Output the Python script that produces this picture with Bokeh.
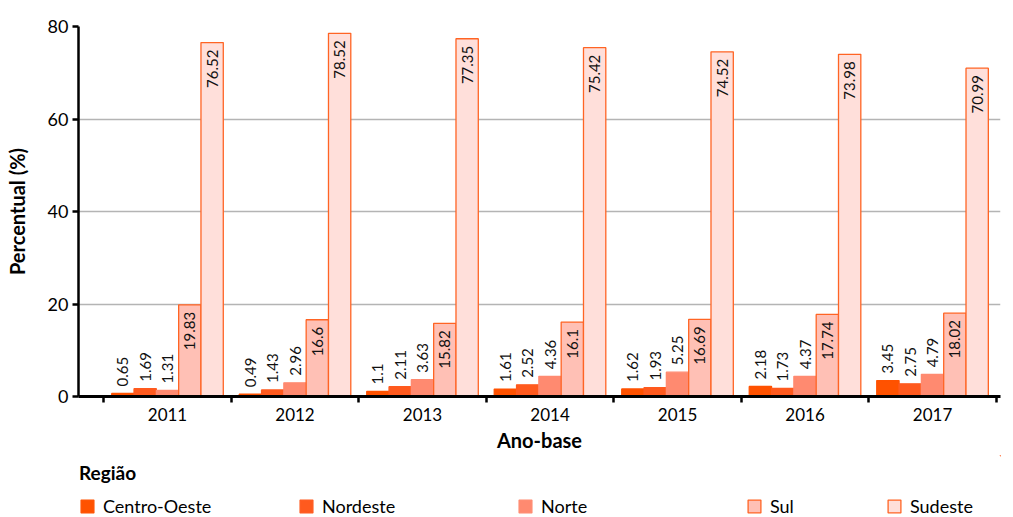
import math
from bokeh.plotting import figure
from bokeh.layouts import column
from bokeh.models import (Range1d, FixedTicker, Legend, LegendItem, ColumnDataSource)
from bokeh.core.properties import value
from bokeh.embed import file_html
from bokeh.resources import INLINE

years = ["2011", "2012", "2013", "2014", "2015", "2016", "2017"]
regions = ["Centro-Oeste", "Nordeste", "Norte", "Sul", "Sudeste"]
centro_oeste = [0.65, 0.49, 1.1, 1.61, 1.62, 2.18, 3.45]
nordeste = [1.69, 1.43, 2.11, 2.52, 1.93, 1.73, 2.75]
norte = [1.31, 2.96, 3.63, 4.36, 5.25, 4.37, 4.79]
sul = [19.83, 16.6, 15.82, 16.1, 16.69, 17.74, 18.02]
sudeste = [76.52, 78.52, 77.35, 75.42, 74.52, 73.98, 70.99]
y_ticks = [0, 20, 40, 60, 80]

series = [centro_oeste, nordeste, norte, sul, sudeste]
fills = ["#FF5200", "#FF5A1E", "#FF8A70", "#FFC0B5", "#FFDFDA"]
borders = ["#FF5200", "#FF5A1E", "#FF8A70", "#FF6424", "#FF6424"]
inside = [False, False, False, True, True]

FONT = "Lato"

p = figure(width=1013, height=455, output_backend="svg", toolbar_location=None,
           x_range=Range1d(-0.698, 6.533), y_range=Range1d(0, 80),
           min_border_left=78, min_border_top=26, min_border_right=13,
           min_border_bottom=59)
p.outline_line_color = None

bar_w = 0.175
offsets = [-2 * bar_w, -bar_w, 0, bar_w, 2 * bar_w]

for k, vals in enumerate(series):
    xs = [i + offsets[k] for i in range(len(years))]
    src = ColumnDataSource(dict(x=xs, top=vals, lab=[str(v) for v in vals]))
    p.vbar(x="x", top="top", width=bar_w, source=src,
           fill_color=fills[k], line_color=borders[k], line_width=1.3)
    if inside[k]:
        p.text(x="x", y="top", text="lab", source=src, angle=math.pi / 2,
               text_align="right", text_baseline="middle", y_offset=7,
               text_font=value(FONT), text_font_size="15px", text_color="#111111")
    else:
        p.text(x="x", y="top", text="lab", source=src, angle=math.pi / 2,
               text_align="left", text_baseline="middle", y_offset=-7,
               text_font=value(FONT), text_font_size="15px", text_color="#111111")

# grid
p.xgrid.grid_line_color = None
p.ygrid.ticker = FixedTicker(ticks=[20, 40, 60, 80])
p.ygrid.grid_line_color = "#B4B4B4"
p.ygrid.grid_line_width = 1.3

# y axis
ya = p.yaxis[0]
ya.ticker = FixedTicker(ticks=y_ticks)
ya.axis_line_width = 2.5
ya.axis_line_color = "black"
ya.major_tick_line_width = 2.5
ya.major_tick_out = 6
ya.major_tick_in = 0
ya.minor_tick_line_color = None
ya.major_label_text_font = FONT
ya.major_label_text_font_size = "18px"
ya.major_label_text_color = "black"
ya.major_label_standoff = 4
ya.axis_label = "Percentual (%)"
ya.axis_label_text_font = FONT
ya.axis_label_text_font_style = "bold"
ya.axis_label_text_font_size = "20px"
ya.axis_label_text_color = "black"
ya.axis_label_standoff = 16

# x axis
xa = p.xaxis[0]
xa.ticker = FixedTicker(ticks=list(range(len(years))),
                        minor_ticks=[i - 0.5 for i in range(len(years) + 1)])
xa.major_label_overrides = {i: y for i, y in enumerate(years)}
xa.axis_line_width = 3
xa.axis_line_color = "black"
xa.major_tick_line_color = None
xa.minor_tick_line_color = "black"
xa.minor_tick_line_width = 2.5
xa.minor_tick_out = 6
xa.minor_tick_in = 0
xa.major_label_text_font = FONT
xa.major_label_text_font_size = "17px"
xa.major_label_text_color = "black"
xa.major_label_standoff = 5
xa.axis_label = "Ano-base"
xa.axis_label_text_font = FONT
xa.axis_label_text_font_style = "bold"
xa.axis_label_text_font_size = "20px"
xa.axis_label_text_color = "black"
xa.axis_label_standoff = 4

# legend panel (separate figure below the chart; its frame is aligned with the chart's frame)
pl = figure(width=1013, height=62, output_backend="svg", toolbar_location=None,
            x_range=Range1d(0, 1), y_range=Range1d(0, 1),
            x_axis_location=None, y_axis_location=None,
            min_border_left=0, min_border_right=0, min_border_top=0, min_border_bottom=0)
pl.outline_line_color = None
pl.xgrid.grid_line_color = None
pl.ygrid.grid_line_color = None

leg_renderers = []
for k in range(len(regions)):
    # off-range swatch renderer, only used for the legend glyph
    r = pl.vbar(x=[5], top=[5], bottom=[4], width=0.1, fill_color=fills[k],
                line_color=borders[k], line_width=1.3)
    leg_renderers.append(r)


def make_legend(items, loc, title=None, label_width=20):
    lg = Legend(items=items, location=loc, orientation="horizontal",
                glyph_width=16, glyph_height=16, label_standoff=8,
                label_width=label_width, spacing=0, padding=0, margin=0,
                border_line_color=None, background_fill_alpha=0,
                label_text_font=FONT, label_text_font_size="18px",
                label_text_color="black")
    if title:
        lg.title = title
        lg.title_text_font = FONT
        lg.title_text_font_style = "bold"
        lg.title_text_font_size = "19px"
        lg.title_text_color = "black"
        lg.title_standoff = 11
    return lg


lg1 = make_legend([LegendItem(label=regions[k], renderers=[leg_renderers[k]]) for k in range(3)],
                  (1, 0), title="Região", label_width=195)
lg2 = make_legend([LegendItem(label=regions[3], renderers=[leg_renderers[3]])], (668, 0))
lg3 = make_legend([LegendItem(label=regions[4], renderers=[leg_renderers[4]])], (808, 0))
for lg in (lg1, lg2, lg3):
    pl.add_layout(lg, "center")

layout = column(p, pl, spacing=0)
open("out.html", "w").write(file_html(layout, INLINE))
